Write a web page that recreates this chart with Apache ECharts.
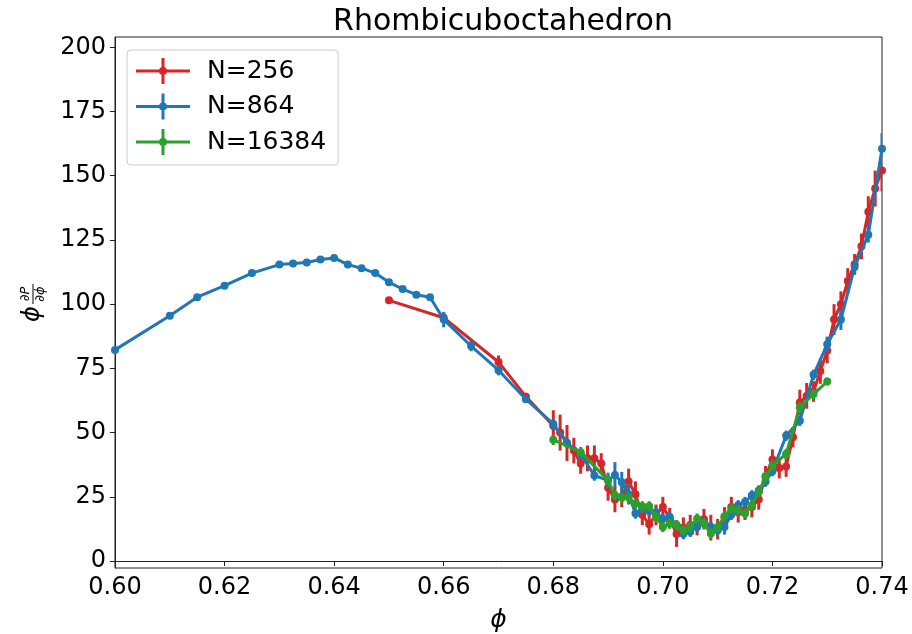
<!DOCTYPE html>
<html lang="en">
<head>
    <meta charset="UTF-8">
    <title>Rhombicuboctahedron</title>
    <script src="https://cdn.jsdelivr.net/npm/echarts@6/dist/echarts.min.js"></script>
    <style>
        html, body { margin: 0; padding: 0; background: #fff; }
    </style>
</head>
<body>
<div id="main" style="width: 912px;height:634px;"></div>
<script>

    // 数据：N=256
    var redX = [0.650,0.660,0.670,0.675,0.680,0.68125,0.6825,0.68375,0.685,0.68625,0.6875,0.68875,
        0.690,0.69125,0.6925,0.69375,0.695,0.69625,0.6975,0.69875,0.700,0.70125,0.7025,0.70375,
        0.705,0.70625,0.7075,0.70875,0.710,0.71125,0.7125,0.71375,0.715,0.71625,0.7175,0.71875,
        0.720,0.72125,0.7225,0.72375,0.725,0.72625,0.7275,0.72875,0.730,0.73125,0.7325,0.73375,
        0.735,0.73625,0.7375,0.73875,0.740];
    var redY = [101.5,94.7,77.5,64.0,52.7,50.0,46.0,43.0,38.0,40.0,40.0,38.0,
        28.5,24.0,25.0,31.0,26.0,18.0,14.3,18.0,21.0,16.7,10.5,13.0,
        14.0,14.0,16.3,13.0,12.4,17.0,21.0,19.0,20.0,21.0,24.0,33.0,
        39.5,36.2,36.8,48.2,61.7,64.3,66.0,74.0,82.0,94.0,100.0,109.0,
        115.5,122.5,136.0,145.0,152.0];
    var redErr = [1,2,2.5,1.5,6,7,7,5,4,5,5,4,
        5,5,4,5,5,4,4,4,4,4,5,4,
        4,4,4,5,4,4,4,4,4,4,4,4,
        4,4,4,4,5,5,4,5,5,6,5,5,
        4,5,6,7,8];

    // 数据：N=864
    var blueX = [0.600,0.610,0.615,0.620,0.625,0.630,0.6325,0.635,0.6375,0.640,0.6425,0.645,0.6475,
        0.650,0.6525,0.655,0.6575,0.660,0.665,0.670,0.675,0.680,0.6825,0.685,0.6875,
        0.690,0.69125,0.6925,0.69375,0.695,0.69625,0.6975,0.69875,0.700,0.70125,0.7025,0.70375,
        0.705,0.70625,0.7075,0.70875,0.710,0.71125,0.7125,0.71375,0.715,0.71625,0.7175,0.71875,
        0.720,0.7225,0.725,0.7275,0.730,0.7325,0.735,0.7375,0.740];
    var blueY = [82.2,95.5,102.7,107.2,112.1,115.4,115.8,116.2,117.4,118.0,115.4,114.0,112.1,
        108.5,105.9,103.7,102.7,94.0,83.7,74.3,63.0,53.4,46.0,41.7,33.3,
        31.4,33.5,30.7,26.0,18.5,20.4,19.5,19.0,16.5,17.2,14.0,10.5,
        11.4,13.3,15.0,13.3,12.0,13.3,18.0,21.7,23.0,25.6,27.5,31.0,
        35.0,48.8,54.6,72.5,84.4,94.0,114.5,127.0,160.5];
    var blueErr = [1,1,1,1,1,1,1,1,1,1,1,1,1,
        1,1,1,1,3,2,2,1.5,2,2,2,2,
        3,5,4,4,2,2,2,2,2,2,2,2,
        2,2,2,2,2,3,2,2,2,2,2,2,
        2,2,2,2,3,4,3,3,6];

    // 数据：N=16384
    var greenX = [0.680,0.685,0.690,0.69125,0.6925,0.69375,0.695,0.69625,0.6975,0.69875,
        0.700,0.70125,0.7025,0.70375,0.705,0.70625,0.7075,0.70875,0.710,0.71125,
        0.7125,0.71375,0.715,0.71625,0.7175,0.71875,0.720,0.7225,0.725,0.7275,0.730];
    var greenY = [47.2,42.4,31.4,25.6,24.7,24.7,22.4,21.3,21.3,17.2,
        13.3,14.6,14.0,12.0,13.3,16.5,14.6,10.7,13.3,17.4,
        20.4,19.8,18.5,21.7,26.9,32.7,37.2,41.7,59.8,65.0,69.9];
    var greenErr = [2,2,2,2,2,2,2,2,2,2,
        2,2,2,2,2,2,2,2,2,2,
        2,2,2,2,2,2,2,2,2,2,1.5];

    var xTicks = [0.60,0.62,0.64,0.66,0.68,0.70,0.72,0.74];
    var yTicks = [0,25,50,75,100,125,150,175,200];

    var names = ['N=256','N=864','N=16384'];
    var colors = ['#d62728','#1f77b4','#2ca02c'];
    var allX = [redX, blueX, greenX];
    var allY = [redY, blueY, greenY];
    var allErr = [redErr, blueErr, greenErr];

    var font = 'DejaVu Sans';
    var legendIcon = 'path://M0,11.5h54v3h-54z M25.5,0h3v26h-3z M31,13A4,4 0 1,1 23,13A4,4 0 1,1 31,13z';

    function pairs(xs, ys) {
        var out = [];
        for (var i = 0; i < xs.length; i++) {
            out.push([xs[i], ys[i]]);
        }
        return out;
    }
    function errRows(xs, ys, es) {
        var out = [];
        for (var i = 0; i < xs.length; i++) {
            out.push([xs[i], ys[i] - es[i], ys[i] + es[i]]);
        }
        return out;
    }

    var series = [];
    for (var s = 0; s < 3; s++) {
        (function (s) {
            series.push({
                name: names[s] + '_err',
                type: 'custom',
                clip: true,
                z: 2 + s * 2,
                silent: true,
                data: errRows(allX[s], allY[s], allErr[s]),
                renderItem: function (params, api) {
                    var p1 = api.coord([api.value(0), api.value(1)]);
                    var p2 = api.coord([api.value(0), api.value(2)]);
                    return {
                        type: 'line',
                        shape: { x1: p1[0], y1: p1[1], x2: p2[0], y2: p2[1] },
                        style: { stroke: colors[s], lineWidth: 3 }
                    };
                }
            });
            series.push({
                name: names[s],
                type: 'line',
                z: 3 + s * 2,
                color: colors[s],
                data: pairs(allX[s], allY[s]),
                symbol: 'circle',
                symbolSize: 8,
                showAllSymbol: true,
                clip: true,
                lineStyle: { width: 3, color: colors[s] },
                itemStyle: { color: colors[s] },
                animation: false
            });
        })(s);
    }

    var myChart = echarts.init(document.getElementById('main'));
    myChart.setOption({
        animation: false,
        backgroundColor: '#fff',
        title: {
            text: 'Rhombicuboctahedron',
            left: 498, textAlign: 'center',
            top: 2,
            textStyle: { fontFamily: font, fontSize: 30, fontWeight: 'normal', color: '#000' }
        },
        legend: {
            data: [
                { name: 'N=256', icon: legendIcon },
                { name: 'N=864', icon: legendIcon },
                { name: 'N=16384', icon: legendIcon }
            ],
            orient: 'vertical',
            left: 127, top: 50,
            itemWidth: 54, itemHeight: 26, itemGap: 9.5,
            padding: [8, 12, 10, 9],
            borderColor: '#cccccc', borderWidth: 1, borderRadius: 4,
            backgroundColor: 'rgba(255,255,255,0.8)',
            textStyle: { fontFamily: font, fontSize: 25, color: '#000', padding: [0, 0, 0, 12] }
        },
        grid: {
            left: 115, right: 30, top: 37, bottom: 66,
            containLabel: false, outerBoundsMode: 'none',
            show: true, borderColor: '#222', borderWidth: 1, backgroundColor: 'transparent'
        },
        // y 轴标题：ϕ ∂P/∂ϕ（竖排分式）
        graphic: [{
            type: 'group',
            x: 33, y: 303,
            rotation: Math.PI / 2,
            children: [
                { type: 'text', x: -11, y: 0, style: { text: 'ϕ', font: 'italic 24px "DejaVu Sans"', fill: '#000', textAlign: 'center', textVerticalAlign: 'middle' } },
                { type: 'text', x: 9, y: -7, style: { text: '∂P', font: 'italic 13px "DejaVu Sans"', fill: '#000', textAlign: 'center', textVerticalAlign: 'middle' } },
                { type: 'line', shape: { x1: -1, y1: 0, x2: 19, y2: 0 }, style: { stroke: '#000', lineWidth: 1 } },
                { type: 'text', x: 9, y: 8, style: { text: '∂ϕ', font: 'italic 13px "DejaVu Sans"', fill: '#000', textAlign: 'center', textVerticalAlign: 'middle' } }
            ]
        }],
        xAxis: {
            type: 'value',
            min: 0.60, max: 0.74,
            name: 'ϕ', nameLocation: 'middle', nameGap: 40,
            nameTextStyle: { fontFamily: font, fontSize: 25, fontStyle: 'italic', color: '#000' },
            axisLine: { show: true, lineStyle: { color: '#222', width: 1 } },
            axisTick: { show: true, inside: false, length: 5, lineStyle: { color: '#222' }, customValues: xTicks },
            axisLabel: {
                fontFamily: font, fontSize: 24, color: '#000', margin: 8,
                customValues: xTicks,
                formatter: function (v) { return v.toFixed(2); }
            },
            splitLine: { show: false }
        },
        yAxis: {
            type: 'value',
            min: -2.7, max: 204,
            axisLine: { show: true, lineStyle: { color: '#222', width: 1 } },
            axisTick: { show: true, inside: false, length: 5, lineStyle: { color: '#222' }, customValues: yTicks },
            axisLabel: {
                fontFamily: font, fontSize: 24, color: '#000', margin: 9,
                customValues: yTicks
            },
            splitLine: { show: false }
        },
        series: series
    });

</script>
</body>
</html>
